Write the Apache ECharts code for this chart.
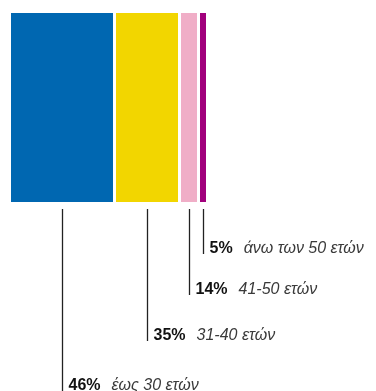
<!DOCTYPE html>
<html>
<head>
<meta charset="utf-8">
<script src="https://cdn.jsdelivr.net/npm/echarts@6/dist/echarts.min.js"></script>
<style>
  html, body { margin: 0; padding: 0; background: #fff; }
  #chart { width: 376px; height: 391px; }
</style>
</head>
<body>
<div id="chart"></div>
<script>
// age groups, shares and relative bar widths as drawn
var categories = ['έως 30 ετών', '31-40 ετών', '41-50 ετών', 'άνω των 50 ετών'];
var shares = [46, 35, 14, 5];
var barWeights = [105, 65, 19, 9];
var colors = ['#0067b1', '#f2d600', '#f0aec7', '#a1007c'];

var starts = [];
var acc = 0;
barWeights.forEach(function (w) { starts.push(acc); acc += w; });

var data = categories.map(function (c, i) {
  return [starts[i], starts[i] + barWeights[i], shares[i], i];
});

// label rows, from right bar (top) to left bar (bottom)
var labelRows = [386, 336, 290, 249];

var chart = echarts.init(document.getElementById('chart'));
chart.setOption({
  animation: false,
  grid: { left: 11, top: 13, width: 198, height: 189 },
  xAxis: { type: 'value', min: 0, max: acc, show: false },
  yAxis: { type: 'value', min: 0, max: 1, show: false },
  series: [{
    type: 'custom',
    clip: false,
    data: data,
    encode: { x: [0, 1] },
    renderItem: function (params, api) {
      var i = api.value(3);
      var p0 = api.coord([api.value(0), 1]);
      var p1 = api.coord([api.value(1), 0]);
      var x0 = p0[0], x1 = p1[0] - 3;
      var cx = Math.round((x0 + x1) / 2) + 0.5;
      var ty = labelRows[i];
      return {
        type: 'group',
        children: [{
          type: 'rect',
          shape: { x: x0, y: p0[1], width: x1 - x0, height: p1[1] - p0[1] },
          style: { fill: colors[i] }
        }, {
          type: 'line',
          shape: { x1: cx, y1: p1[1] + 7, x2: cx, y2: ty + 5 },
          style: { stroke: '#222', lineWidth: 1.3 }
        }, {
          type: 'text',
          x: cx + 6,
          y: ty,
          style: {
            text: '{p|' + api.value(2) + '%}{l|' + categories[i] + '}',
            verticalAlign: 'middle',
            rich: {
              p: { fontFamily: 'Liberation Sans, Arial, sans-serif', fontSize: 16, fontWeight: 'bold', fill: '#111', padding: [0, 11, 0, 0] },
              l: { fontFamily: 'Liberation Sans, Arial, sans-serif', fontSize: 16, fontStyle: 'italic', fill: '#3a3a3a' }
            }
          }
        }]
      };
    }
  }]
});
</script>
</body>
</html>
